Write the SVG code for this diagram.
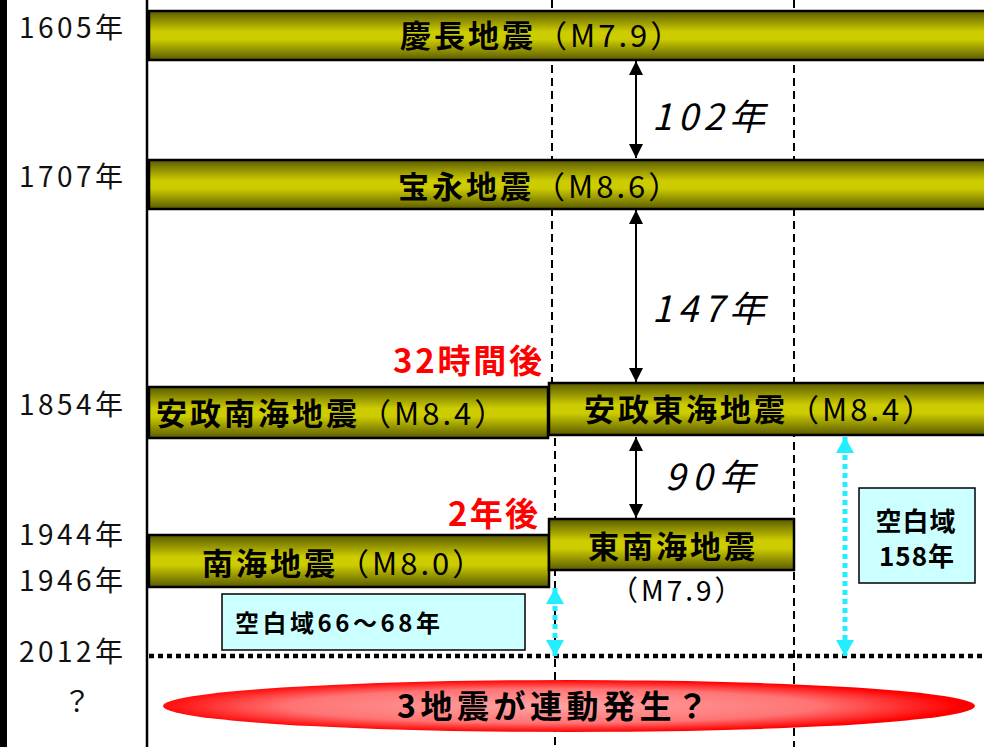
<svg xmlns="http://www.w3.org/2000/svg" width="984" height="747" viewBox="0 0 984 747">
<defs>
<linearGradient id="bar" x1="0" y1="0" x2="0" y2="1">
<stop offset="0" stop-color="#5a5a00"/>
<stop offset="0.42" stop-color="#cccc00"/>
<stop offset="0.58" stop-color="#cccc00"/>
<stop offset="1" stop-color="#5a5a00"/>
</linearGradient>
<radialGradient id="red" cx="0.48" cy="0.5" r="0.5">
<stop offset="0" stop-color="#ffa4a4"/>
<stop offset="0.65" stop-color="#ff7474"/>
<stop offset="1" stop-color="#ff0000"/>
</radialGradient>
<marker id="ah" viewBox="0 0 14 14" refX="14" refY="7" markerWidth="14" markerHeight="14" markerUnits="userSpaceOnUse" orient="auto-start-reverse">
<path d="M0,0 L14,7 L0,14 Z" fill="#000"/>
</marker>
<marker id="ch" viewBox="0 0 16 18" refX="16" refY="9" markerWidth="16" markerHeight="18" markerUnits="userSpaceOnUse" orient="auto-start-reverse">
<path d="M0,0 L16,9 L0,18 Z" fill="#22eeff"/>
</marker>
</defs>
<style>
.bar{fill:url(#bar);stroke:#000;stroke-width:2.5}
.t{font-family:"Noto Sans CJK JP","Noto Sans",sans-serif}
.yr{font-size:28px;fill:#111}
.bt{font-size:31px;fill:#000;letter-spacing:3px}
.b{font-weight:bold}
.red{font-size:33px;font-weight:bold;fill:#ff0000}
.it{font-size:36px;font-style:italic;fill:#000}
.box{fill:#ccffff;stroke:#000;stroke-width:1.5}
.vd{stroke:#000;stroke-width:2;stroke-dasharray:8 5;fill:none}
.arr{stroke:#000;stroke-width:2;fill:none;marker-start:url(#ah);marker-end:url(#ah)}
.carr{stroke:#22eeff;stroke-width:5;stroke-dasharray:5 4;fill:none;marker-start:url(#ch);marker-end:url(#ch)}
</style>
<rect width="984" height="747" fill="#fff"/>
<g id="axis">
<rect x="0" y="0" width="7" height="747" fill="#000"/>
<line x1="147" y1="0" x2="147" y2="747" stroke="#000" stroke-width="2.5"/>
<line x1="552" y1="0" x2="552" y2="384" class="vd"/>
<line x1="555" y1="438" x2="555" y2="747" class="vd"/>
<line x1="794" y1="0" x2="794" y2="747" class="vd"/>
<line x1="149" y1="656" x2="984" y2="656" stroke="#000" stroke-width="4.5" stroke-dasharray="5 4"/>
</g>
<g id="years" class="t yr">
<text x="19" y="38" textLength="104" lengthAdjust="spacing">1605年</text>
<text x="19" y="187" textLength="104" lengthAdjust="spacing">1707年</text>
<text x="19" y="415" textLength="104" lengthAdjust="spacing">1854年</text>
<text x="19" y="545" textLength="104" lengthAdjust="spacing">1944年</text>
<text x="19" y="591" textLength="104" lengthAdjust="spacing">1946年</text>
<text x="19" y="662" textLength="104" lengthAdjust="spacing">2012年</text>
<text x="77" y="712" text-anchor="middle">？</text>
</g>
<g id="keicho">
<rect class="bar" x="149" y="11" width="840" height="49"/>
<text class="t bt" x="400" y="47"><tspan class="b">慶長地震</tspan>（M7.9）</text>
</g>
<g id="hoei">
<rect class="bar" x="149" y="160" width="840" height="49"/>
<text class="t bt" x="398" y="198"><tspan class="b">宝永地震</tspan>（M8.6）</text>
</g>
<g id="ansei-nankai">
<rect class="bar" x="149" y="387" width="399" height="51"/>
<text class="t bt" x="156" y="425"><tspan class="b">安政南海地震</tspan>（M8.4）</text>
</g>
<g id="ansei-tokai">
<rect class="bar" x="549" y="383" width="440" height="52"/>
<text class="t bt" x="584" y="421"><tspan class="b">安政東海地震</tspan>（M8.4）</text>
</g>
<g id="nankai">
<rect class="bar" x="149" y="535" width="400" height="52"/>
<text class="t bt" x="202" y="575"><tspan class="b">南海地震</tspan>（M8.0）</text>
</g>
<g id="tonankai">
<rect class="bar" x="549" y="519" width="245" height="51"/>
<text class="t bt b" x="588" y="558">東南海地震</text>
<text class="t" x="610" y="601" font-size="28" letter-spacing="3">（M7.9）</text>
</g>
<g id="labels">
<text class="t red" x="393" y="373" textLength="149" lengthAdjust="spacing">32時間後</text>
<text class="t red" x="448" y="526" textLength="90" lengthAdjust="spacing">2年後</text>
<text class="t it" x="652" y="130" textLength="113" lengthAdjust="spacing">102年</text>
<text class="t it" x="652" y="322" textLength="113" lengthAdjust="spacing">147年</text>
<text class="t it" x="665" y="490" textLength="90" lengthAdjust="spacing">90年</text>
</g>
<g id="gap1">
<rect class="box" x="222" y="594" width="303" height="56"/>
<text class="t b" x="235" y="632" font-size="24" textLength="205" lengthAdjust="spacing">空白域66〜68年</text>
</g>
<g id="gap2">
<rect class="box" x="859" y="488" width="116" height="95"/>
<text class="t b" x="916" y="531" font-size="26" text-anchor="middle" letter-spacing="1">空白域</text>
<text class="t b" x="917" y="566" font-size="26" text-anchor="middle" letter-spacing="1">158年</text>
</g>
<g id="connectors">
<line class="arr" x1="636" y1="61" x2="636" y2="158"/>
<line class="arr" x1="636" y1="210" x2="636" y2="382"/>
<line class="arr" x1="636" y1="437" x2="636" y2="518"/>
<line class="carr" x1="555" y1="588" x2="555" y2="656"/>
<line class="carr" x1="845" y1="437" x2="845" y2="656"/>
</g>
<g id="future">
<ellipse cx="569" cy="706" rx="406" ry="26" fill="url(#red)"/>
<text class="t b" x="397" y="718" font-size="32" letter-spacing="4.5">3地震が連動発生？</text>
</g>
</svg>
